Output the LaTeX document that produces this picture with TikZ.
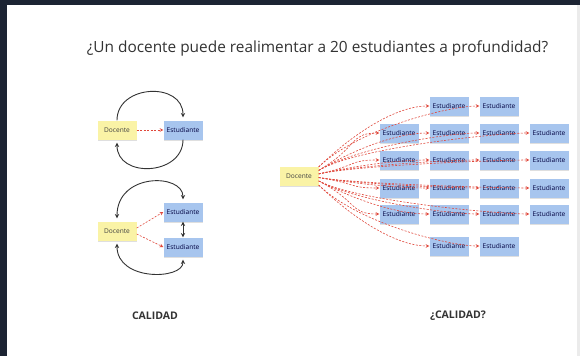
\documentclass[tikz,border=0pt]{standalone}
\usepackage{fontspec}
\setmainfont{Open Sans}
\usetikzlibrary{shadows}
\definecolor{slidebg}{HTML}{1C2433}
\definecolor{notey}{HTML}{FAF3A6}
\definecolor{noteb}{HTML}{A7C5EE}
\definecolor{fbred}{HTML}{E0473B}
\definecolor{inkc}{HTML}{333333}

\begin{document}
\begin{tikzpicture}
[x=1pt, y=-1pt, >=stealth,
 note/.style={rectangle, minimum width=39pt, minimum height=19pt, inner sep=0pt, font=\fontsize{6.6}{7}\selectfont, drop shadow={shadow xshift=0pt, shadow yshift=-1.2pt, opacity=0.25}},
 doc/.style={note, fill=notey, text=black!75},
 est/.style={note, fill=noteb, text=blue!25!black},
 fb/.style={->, draw=fbred, dash pattern=on 2pt off 1.5pt, line width=0.6pt},
 loopline/.style={draw=inkc, line width=0.9pt},
 verdict/.style={font=\bfseries\fontsize{10.5}{12}\selectfont, text=inkc}]
% slide
\fill[slidebg] (0,0) rectangle (580,356);
\fill[white] (7,5) rectangle (577,356);
\fill[black!8] (577,5) rectangle (580,356);
\node (title) [font=\fontsize{15.4}{18}\selectfont, text=inkc] at (317.5,48) {¿Un docente puede realimentar a 20 estudiantes a profundidad?};

% one student
\node (d1) [doc] at (117,130) {Docente};
\node (e1) [est] at (183,130) {Estudiante};
\draw [fb] (d1) -- (e1);
\draw [loopline, ->] (d1.north) .. controls +(0,-36) and +(0,-36) .. ([yshift=3pt]e1.north);
\draw [loopline, ->] (e1.south) .. controls +(0,36) and +(0,36) .. ([yshift=-3pt]d1.south);

% two students
\node (d2) [doc] at (117,231) {Docente};
\node (e2a) [est] at (183,212) {Estudiante};
\node (e2b) [est] at (183,247) {Estudiante};
\draw [fb] ([yshift=3pt]d2.east) -- (e2a.west);
\draw [fb] ([yshift=-3pt]d2.east) -- (e2b.west);
\draw [loopline, <->] ([yshift=3pt]d2.north) .. controls +(0,-46) and +(0,-26) .. ([yshift=3pt]e2a.north);
\draw [loopline, <->] ([yshift=-3pt]d2.south) .. controls +(0,38) and +(0,20) .. ([yshift=-3pt]e2b.south);
\draw [loopline, <->] (e2a.south) -- (e2b.north);

% twenty students
\node (d3) [doc] at (299,176) {Docente};
\foreach \x/\rows in {399/{2,3,4,5}, 449/{1,2,3,4,5,6}, 499/{1,2,3,4,5,6}, 549/{2,3,4,5}}
  \foreach \r in \rows {
    \pgfmathsetmacro{\y}{{106,133,160,188,214,246}[\r-1]}
    \node (s\x-\r) [est] at (\x,\y) {Estudiante};
  }
\foreach \x/\rows in {399/{2,3,4,5}, 449/{1,2,3,4,5,6}, 499/{1,2,3,4,5,6}, 549/{2,3,4,5}}
  \foreach \r in \rows {
    \pgfmathsetmacro{\y}{{106,133,160,188,214,246}[\r-1]}
    \pgfmathsetmacro{\dy}{(\y-176)*0.13}
    \draw [fb] ([yshift=-\dy pt]d3.east) .. controls +(40,{(\y-176)*0.55}) and +(-30,0) .. (s\x-\r.west);
  }

\node (q1) [verdict] at (155,316) {CALIDAD};
\node (q2) [verdict] at (458,316) {¿CALIDAD?};
\end{tikzpicture}
\end{document}
